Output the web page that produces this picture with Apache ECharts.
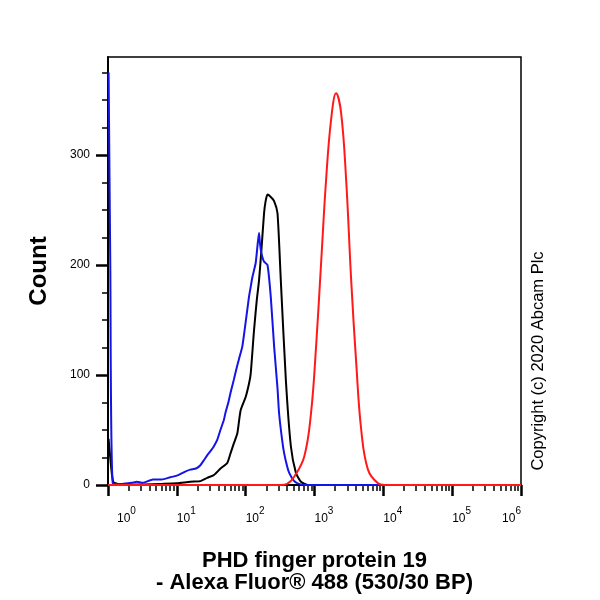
<!DOCTYPE html>
<html>
<head>
<meta charset="utf-8">
<script src="https://cdn.jsdelivr.net/npm/echarts@6/dist/echarts.min.js"></script>
<style>html,body{margin:0;padding:0;background:#fff}</style>
</head>
<body>
<div id="main" style="width:600px;height:600px"></div>
<script>
// axis ticks
var xMajor = [1, 10, 100, 1000, 10000, 100000, 1000000];
var xMinor = [2, 3, 4, 5, 6, 7, 8, 9,
  20, 30, 40, 50, 60, 70, 80, 90,
  200, 300, 400, 500, 600, 700, 800, 900,
  2000, 3000, 4000, 5000, 6000, 7000, 8000, 9000,
  20000, 30000, 40000, 50000, 60000, 70000, 80000, 90000,
  200000, 300000, 400000, 500000, 600000, 700000, 800000, 900000];
var yMajor = [0, 100, 200, 300];
var yMinor = [25, 50, 75, 125, 150, 175, 225, 250, 275, 325, 350, 375];

// histograms: [fluorescence, count]
var blackData = [
  [1.02, 42], [1.06, 30], [1.19, 3], [1.5, 0.5], [3, 0.5], [6, 1], [10, 1.5],
  [15.7, 3], [22, 3.5], [27.6, 6.5], [34.4, 9], [43.2, 15], [54, 20], [60.4, 29],
  [67.5, 38], [75.7, 47], [84.5, 68], [100, 80], [111.7, 92], [118.3, 101],
  [132, 140], [145, 168], [156.4, 186], [170, 215], [185, 247], [195, 258],
  [207.5, 264], [230, 262], [259, 258], [290, 247], [324, 186], [384, 95],
  [454, 35], [537, 11], [635, 3], [796, 0], [1000000, 0]
];
var blueData = [
  [1.02, 375], [1.08, 200], [1.17, 2], [1.6, 1], [2.2, 2], [2.62, 3], [3.2, 2],
  [4.5, 5], [6, 5], [8, 7], [10.5, 9], [13, 12], [15.7, 14], [19, 15], [22, 18],
  [25, 23], [27.6, 27], [31, 31], [34.4, 35], [38.6, 41], [43, 50], [48.2, 59],
  [51, 66], [56, 75], [60.4, 84], [67.5, 96], [75, 108], [82, 117], [89.5, 126],
  [100, 148], [111.7, 171], [118.3, 180], [125.3, 189], [132, 195], [140, 202],
  [150, 220], [156.4, 229], [160, 222], [165.6, 214], [175, 207], [185, 203],
  [207.5, 200], [231.6, 171], [259, 126], [290, 88], [306, 65], [340, 40],
  [362, 29], [400, 17], [429, 11], [500, 4], [569, 1.5], [710, 0], [1000000, 0]
];
var redData = [
  [1, 0], [324, 0], [400, 1], [507, 7.5], [710, 26], [889, 65], [1052, 125],
  [1245, 201], [1472, 277], [1742, 332], [2060, 356], [2437, 338], [2884, 277],
  [3412, 186], [4036, 111], [4776, 50], [5980, 14], [8370, 1.5], [10450, 0],
  [1000000, 0]
];

var myChart = echarts.init(document.getElementById('main'));

var lineSeries = function (name, data, color, smooth) {
  return {
    name: name,
    type: 'line',
    data: data,
    showSymbol: false,
    smooth: smooth,
    lineStyle: { color: color, width: 2 },
    itemStyle: { color: color }
  };
};

myChart.setOption({
  animation: false,
  textStyle: { fontFamily: 'Liberation Sans, Arial, sans-serif', color: '#000' },
  grid: {
    left: 108, right: 79, top: 57, bottom: 115,
    show: true, borderColor: '#000', borderWidth: 1.5
  },
  xAxis: [
    {
      type: 'log',
      logBase: 10,
      min: 1,
      max: 1000000,
      axisLine: { lineStyle: { color: '#000', width: 2 } },
      axisTick: { customValues: xMajor, length: 11, lineStyle: { color: '#000', width: 2.5 } },
      splitLine: { show: false },
      axisLabel: {
        customValues: xMajor,
        margin: 21,
        align: 'left',
        alignMaxLabel: 'right',
        formatter: function (v) {
          var e = Math.round(Math.log10(v));
          return (e === 0 ? '{f|10}' : '{b|10}') + '{s|' + e + '}';
        },
        rich: {
          b: { fontSize: 12, verticalAlign: 'bottom', color: '#000' },
          f: { fontSize: 12, verticalAlign: 'bottom', padding: [0, 0, 0, 9], color: '#000' },
          s: { fontSize: 10, verticalAlign: 'bottom', padding: [0, 0, 9, 0], color: '#000' }
        }
      },
      name: 'PHD finger protein 19\n- Alexa Fluor® 488 (530/30 BP)',
      nameLocation: 'middle',
      nameGap: 65,
      nameTextStyle: { fontSize: 22, fontWeight: 'bold', lineHeight: 22, color: '#000' }
    },
    {
      type: 'log',
      logBase: 10,
      min: 1,
      max: 1000000,
      position: 'bottom',
      axisLine: { show: false },
      axisTick: { customValues: xMinor, length: 6, lineStyle: { color: '#000', width: 1.5 } },
      axisLabel: { show: false },
      splitLine: { show: false }
    }
  ],
  yAxis: [
    {
      type: 'value',
      min: 0,
      max: 389,
      axisLine: { show: true, lineStyle: { color: '#000', width: 2 } },
      axisTick: { show: true, customValues: yMajor, length: 12, lineStyle: { color: '#000', width: 2.5 } },
      splitLine: { show: false },
      axisLabel: { customValues: yMajor, margin: 18, fontSize: 12, color: '#000' },
      name: 'Count',
      nameLocation: 'middle',
      nameRotate: 90,
      nameGap: 57,
      nameTextStyle: { fontSize: 24, fontWeight: 'bold', color: '#000' }
    },
    {
      type: 'value',
      min: 0,
      max: 389,
      position: 'left',
      axisLine: { show: false },
      axisTick: { show: true, customValues: yMinor, length: 6, lineStyle: { color: '#000', width: 1.5 } },
      axisLabel: { show: false },
      splitLine: { show: false }
    }
  ],
  graphic: [
    {
      type: 'text',
      x: 538,
      y: 361,
      rotation: Math.PI / 2,
      style: {
        text: 'Copyright (c) 2020 Abcam Plc',
        fontSize: 16.5,
        fontFamily: 'Liberation Sans, Arial, sans-serif',
        fill: '#000',
        align: 'center',
        verticalAlign: 'middle'
      }
    }
  ],
  series: [
    lineSeries('black', blackData, '#000000', 0.2),
    lineSeries('blue', blueData, '#1414e6', 0.2),
    lineSeries('red', redData, '#ff1a1a', 0.4)
  ]
});
</script>
</body>
</html>
